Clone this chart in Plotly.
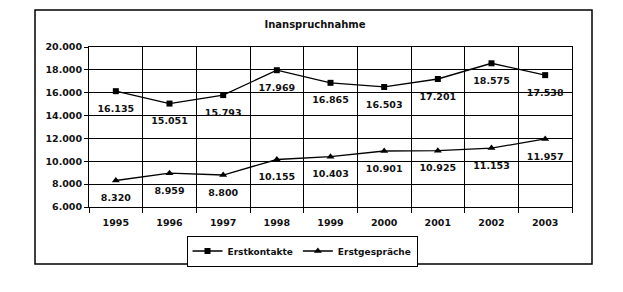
import plotly.graph_objects as go

years = ["1995", "1996", "1997", "1998", "1999", "2000", "2001", "2002", "2003"]
erstkontakte = [16135, 15051, 15793, 17969, 16865, 16503, 17201, 18575, 17538]
erstgespraeche = [8320, 8959, 8800, 10155, 10403, 10901, 10925, 11153, 11957]
y_ticks = [6000, 8000, 10000, 12000, 14000, 16000, 18000, 20000]

xs = list(range(len(years)))
font = "DejaVu Sans"
tcol = "#111"

fig = go.Figure()
series = [("Erstkontakte", erstkontakte, "square", 6),
          ("Erstgespräche", erstgespraeche, "triangle-up", 7)]
for name, vals, sym, ms in series:
    fig.add_trace(go.Scatter(
        x=xs, y=vals, name=name, mode="lines+markers",
        line=dict(color="black", width=1.3),
        marker=dict(symbol=sym, size=ms, color="black"),
        hoverinfo="x+y",
    ))
for name, vals, sym, ms in series:
    # value labels, offset below the points via an invisible marker
    fig.add_trace(go.Scatter(
        x=xs, y=vals, mode="markers+text", showlegend=False,
        marker=dict(size=20, color="rgba(0,0,0,0)"),
        texttemplate="%{y:,.0f}", textposition="bottom center",
        textfont=dict(family=font, size=9.5, color=tcol, weight="bold"),
        hoverinfo="skip", cliponaxis=False,
    ))

x0, x1, yt, yb = 89, 572, 47, 207
W, H = 623, 292
pw, ph = x1 - x0, yb - yt
def px(x): return (x - x0) / pw
def py(y): return (yb - y) / ph

tickfont = dict(family=font, size=9.5, color=tcol, weight="bold")
fig.update_layout(
    width=W, height=H,
    margin=dict(l=x0, r=W - x1, t=yt, b=H - yb),
    paper_bgcolor="white", plot_bgcolor="white",
    separators=",.",
    font=dict(family=font, size=9, color=tcol),
    title=dict(text="<b>Inanspruchnahme</b>", x=315 / W, xref="container", xanchor="center",
               y=1 - 24 / H, yref="container", yanchor="middle",
               font=dict(family=font, size=10, color=tcol)),
    xaxis=dict(range=[-0.5, len(years) - 0.5], tickvals=xs, ticktext=years,
               showgrid=False, ticks="", showline=True, linecolor="black", linewidth=1,
               mirror=True, zeroline=False, ticklabelstandoff=7,
               minor=dict(tickvals=[i - 0.5 for i in range(len(years) + 1)], showgrid=True,
                          gridcolor="black", gridwidth=1, ticks="outside", ticklen=5,
                          tickcolor="black"),
               tickfont=tickfont),
    yaxis=dict(range=[6000, 20000], tickvals=y_ticks, tickformat=",.0f",
               showgrid=True, gridcolor="black", gridwidth=1,
               ticks="outside", ticklen=4, tickcolor="black",
               showline=True, linecolor="black", linewidth=1, mirror=True, zeroline=False,
               tickfont=tickfont),
    showlegend=True,
    legend=dict(orientation="h", x=px(302), xanchor="center", y=py(251), yanchor="middle",
                bordercolor="black", borderwidth=1, bgcolor="white",
                font=dict(family=font, size=9, color=tcol, weight="bold"),
                itemwidth=30, tracegroupgap=0),
    shapes=[dict(type="rect", xref="paper", yref="paper",
                 x0=px(35), x1=px(592), y0=py(264), y1=py(10),
                 line=dict(color="black", width=1.5), layer="below")],
)

fig.write_html("out.html")
